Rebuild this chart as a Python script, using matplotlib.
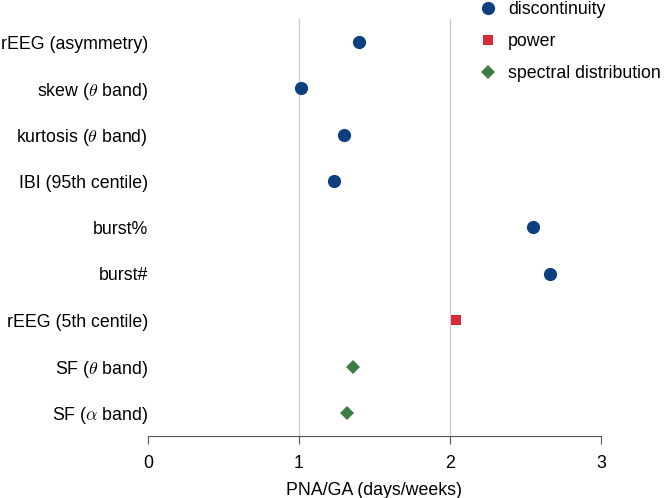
import matplotlib
matplotlib.use('Agg')
import matplotlib.pyplot as plt
import numpy as np

plt.rcParams['font.family'] = ['Liberation Sans', 'DejaVu Sans']
plt.rcParams['mathtext.fontset'] = 'cm'

# Features, top to bottom
features = ['rEEG (asymmetry)', r'skew ($\theta$ band)', r'kurtosis ($\theta$ band)',
            'IBI (95th centile)', 'burst%', 'burst#', 'rEEG (5th centile)',
            r'SF ($\theta$ band)', r'SF ($\alpha$ band)']
values = [1.40, 1.01, 1.30, 1.23, 2.55, 2.66, 2.04, 1.36, 1.32]
groups = ['discontinuity', 'discontinuity', 'discontinuity', 'discontinuity',
          'discontinuity', 'discontinuity', 'power',
          'spectral distribution', 'spectral distribution']

group_names = ['discontinuity', 'power', 'spectral distribution']
group_colors = ['#0b3f7f', '#d62b38', '#3b7d45']
group_markers = ['o', 's', 'D']
group_sizes = [9.5, 7, 7.5]

FS = 12.8

fig = plt.figure(figsize=(6.66, 4.98), dpi=100)
ax = fig.add_axes([148 / 666, 1 - 436 / 498, (601 - 148) / 666, (436 - 19) / 498])

ypos = np.arange(len(features))
for g, c, m, s in zip(group_names, group_colors, group_markers, group_sizes):
    idx = [i for i, gg in enumerate(groups) if gg == g]
    ax.plot([values[i] for i in idx], [ypos[i] for i in idx], linestyle='none',
            marker=m, color=c, markersize=s, markeredgewidth=0, label=g)

for x in [1, 2]:
    ax.axvline(x, color='#cccccc', linewidth=1, zorder=0)

ax.set_xlim(0, 3)
ax.set_ylim(len(features) - 0.5, -0.5)
ax.set_xticks([0, 1, 2, 3])
ax.set_yticks(ypos)
ax.set_yticklabels(features, fontsize=FS)
ax.tick_params(axis='y', length=0, pad=0)
ax.tick_params(axis='x', direction='out', length=6, color='#555555', labelsize=FS, pad=8)
ax.set_xlabel('PNA/GA (days/weeks)', fontsize=FS, labelpad=7)

for side in ['top', 'right', 'left']:
    ax.spines[side].set_visible(False)
ax.spines['bottom'].set_color('#555555')

ax.legend(loc='upper left', bbox_to_anchor=(470 / 666, 1.0 + 6 / 498), bbox_transform=fig.transFigure,
          frameon=False, fontsize=FS, handletextpad=0.55, labelspacing=0.85,
          handlelength=1.2, borderaxespad=0)

fig.savefig('out.png', dpi=100)
